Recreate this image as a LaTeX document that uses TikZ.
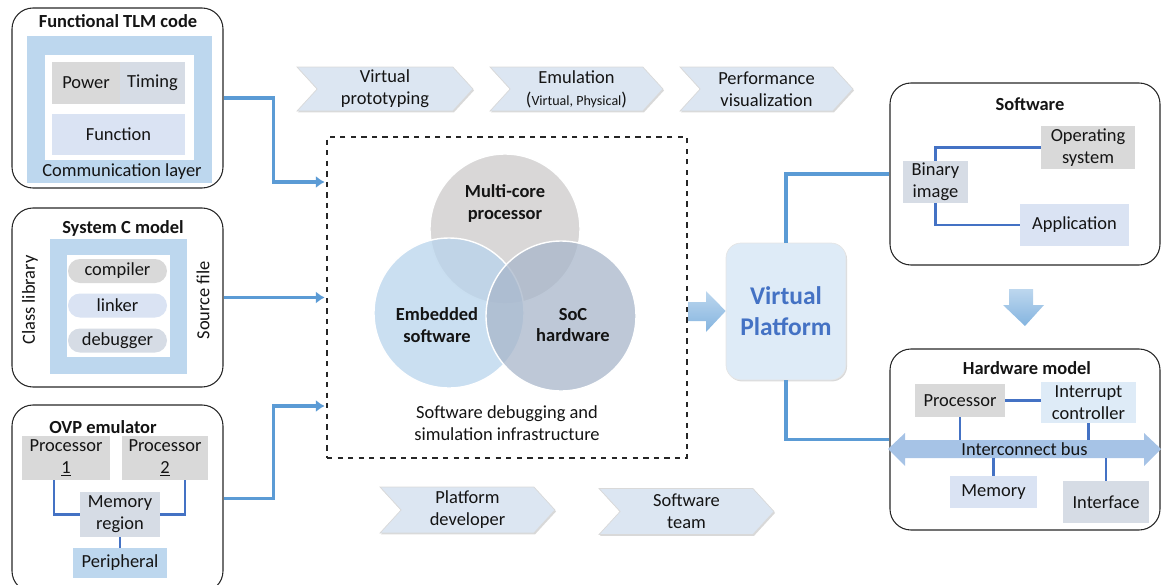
\documentclass[tikz,border=0pt]{standalone}
\usepackage{fontspec}
\setmainfont{Carlito}
\usetikzlibrary{shapes.symbols, shadows, calc, arrows.meta}
\definecolor{txtcol}{RGB}{20,20,20}
\definecolor{linkblue}{RGB}{91,155,213}
\definecolor{wireblue}{RGB}{68,114,196}
\definecolor{graybox}{RGB}{217,217,217}
\definecolor{bluegray}{RGB}{214,220,229}
\definecolor{paleblue}{RGB}{218,227,243}
\definecolor{lightblue}{RGB}{189,215,238}
\definecolor{iceblue}{RGB}{222,235,247}
\definecolor{chevcol}{RGB}{220,230,242}
\definecolor{busblue}{RGB}{166,195,230}
\definecolor{circgray}{RGB}{204,202,202}
\definecolor{circblue}{RGB}{184,212,236}
\definecolor{circslate}{RGB}{168,182,202}
\definecolor{vpblue}{RGB}{68,114,196}

\begin{document}
\begin{tikzpicture}[x=0.02cm, y=-0.02cm,
  every node/.style={font=\fontsize{10.5}{12.5}\selectfont, text=txtcol, align=center},
  sz/.style 2 args={minimum width=#1*0.02cm, minimum height=#2*0.02cm, inner sep=0pt},
  panel/.style={draw=black!85, line width=0.6pt, rounded corners=0.42cm},
  title/.style={font=\fontsize{10.5}{12.5}\selectfont\bfseries},
  pill/.style={sz={99}{24}, rounded corners=0.24cm},
  chev/.style={signal, signal from=west, signal to=east, signal pointer angle=95,
    fill=chevcol, draw=black!15, inner sep=0pt,
    drop shadow={opacity=0.3, shadow xshift=0.6pt, shadow yshift=-0.8pt}},
  link/.style={draw=linkblue, line width=2.2pt, -{Latex[length=5pt,width=7pt]}},
  trunk/.style={draw=linkblue, line width=2.2pt},
  wire/.style={draw=wireblue, line width=1.3pt},
  venn/.style={circle, sz={150}{150}, fill opacity=0.75, draw=white, line width=0.8pt},
  fatarrow/.style={top color=lightblue, bottom color=linkblue!75}]
\useasboundingbox (0,0) rectangle (1161,585);

% Functional TLM code
\node[panel, sz={211}{180}] (tlm) at (117.5,98) {};
\node[title] (tlmtitle) at (118,21) {Functional TLM code};
\node[fill=lightblue, sz={185}{147}] (comm) at (119.5,109.5) {};
\node[fill=white, sz={149}{105}] (commin) at (119.5,107.5) {};
\node[fill=graybox, sz={68}{42}] (power) at (86,83) {Power};
\node[fill=bluegray, sz={65}{42}] (timing) at (152.5,83) {Timing};
\node[fill=paleblue, sz={133}{41}] (func) at (118.5,134.5) {Function};
\node (commtxt) at (122,172) {Communication layer};

% System C model
\node[panel, sz={211}{179}] (sysc) at (117.5,297.5) {};
\node[title] (sysctitle) at (123,228) {System C model};
\node[fill=lightblue, sz={137}{135}] (libbox) at (118.5,306) {};
\node[fill=white, sz={103}{102}] (libin) at (118.5,306) {};
\node[pill, fill=graybox] (comp) at (117.5,271) {compiler};
\node[pill, fill=paleblue] (lnk) at (117.5,305.5) {linker};
\node[pill, fill=bluegray] (dbg) at (117.5,340.5) {debugger};
\node[rotate=90] (classlib) at (30,300) {Class library};
\node[rotate=90] (srcfile) at (203,300) {Source file};

% OVP emulator
\node[panel, sz={211}{187}] (ovp) at (117.5,498.5) {};
\node[title] (ovptitle) at (103,427) {OVP emulator};
\node[fill=graybox, sz={88}{44}] (p1) at (66,458) {Processor\\\underline{1}};
\node[fill=graybox, sz={86}{44}] (p2) at (165,458) {Processor\\\underline{2}};
\node[fill=bluegray, sz={80}{45}] (memreg) at (120,514.5) {Memory\\region};
\node[fill=lightblue, sz={94}{30}] (peri) at (120,563) {Peripheral};
\draw[wire] (54,0 |- p1.south) |- (memreg.west);
\draw[wire] (185,0 |- p2.south) |- (memreg.east);
\draw[wire] (memreg) -- (peri);

% Flow chevrons
\node[chev, sz={176}{44}] (proto) at (385,89) {Virtual\\prototyping};
\node[chev, sz={173}{44}] (emu) at (576.5,89) {Emulation\\({\fontsize{8}{10}\selectfont Virtual, Physical})};
\node[chev, sz={173}{44}] (perf) at (766.5,89) {Performance\\visualization};
\node[chev, sz={175}{46}] (pdev) at (467.5,510) {Platform\\developer};
\node[chev, sz={175}{46}] (swteam) at (686.5,511.5) {Software\\team};

% Infrastructure
\node[draw=black!85, dashed, line width=0.7pt, sz={360}{321}] (infra) at (507,297.5) {};
\node[venn, fill=circgray] (mcp) at (505,229) {};
\node[venn, fill=circblue] (emb) at (449,313) {};
\node[venn, fill=circslate] (soc) at (561,316) {};
\node[title] (mcptxt) at (505,203) {Multi-core\\processor};
\node[title] (embtxt) at (437,325) {Embedded\\software};
\node[title] (soctxt) at (573,325) {SoC\\hardware};
\node (infratxt) at (507,423) {Software debugging and\\simulation infrastructure};

\draw[link] (tlm.east) -- ++(50,0) |- ([xshift=-1pt]infra.west |- 0,182);
\draw[link] (sysc.east) -- ([xshift=-1pt]infra.west);
\draw[link] (ovp.east) -- ++(50,0) |- ([xshift=-1pt]infra.west |- 0,406);

% Virtual Platform
\node[sz={120}{137}, rounded corners=0.3cm, fill=iceblue, draw=black!10,
  drop shadow={opacity=0.3, shadow xshift=0.6pt, shadow yshift=-0.8pt},
  font=\fontsize{14.5}{17.5}\selectfont\bfseries, text=vpblue] (vp) at (786,311.5) {Virtual\\Platform};
\shade[fatarrow] (688,302) -- (706,302) -- (706,291) -- (vp.west |- 0,311)
  -- (706,332) -- (706,321) -- (688,321) -- cycle;

% Software
\node[panel, sz={270}{182}] (sw) at (1025,174) {};
\node[title] (swtitle) at (1030,104) {Software};
\node[fill=bluegray, sz={65}{42}] (bin) at (935.5,182) {Binary\\image};
\node[fill=graybox, sz={94}{43}] (os) at (1088,147.5) {Operating\\system};
\node[fill=paleblue, sz={109}{42}] (app) at (1074.5,225) {Application};
\draw[wire] (bin.north) |- (os.west);
\draw[wire] (bin.south) |- (app.west);

% Hardware model
\node[panel, sz={270}{181}] (hw) at (1025,439.5) {};
\node[title] (hwtitle) at (1027,368) {Hardware model};
\node[fill=graybox, sz={90}{33}] (cpu) at (960,400.5) {Processor};
\node[fill=iceblue, sz={95}{41}] (irq) at (1088.5,402.5) {Interrupt\\controller};
\fill[busblue] (888,449) -- (905,433) -- (905,440) -- (1144,440) -- (1144,433)
  -- (1161,449) -- (1144,466) -- (1144,458) -- (905,458) -- (905,466) -- cycle;
\node[sz={239}{18}] (bus) at (1024.5,449) {Interconnect bus};
\node[fill=paleblue, sz={87}{32}] (hwmem) at (993.5,492) {Memory};
\node[fill=bluegray, sz={86}{42}] (iface) at (1106,502) {Interface};
\draw[wire] (cpu.east) -- (irq.west |- cpu.east);
\draw[wire] (cpu.south) -- (cpu.south |- bus.north);
\draw[wire] (irq.south) -- (irq.south |- bus.north);
\draw[wire] (hwmem.north) -- (hwmem.north |- bus.south);
\draw[wire] (iface.north) -- (iface.north |- bus.south);

% Links to the platform
\draw[trunk] (vp.north) |- (sw.west);
\draw[trunk] (vp.south) |- (hw.west);
\shade[fatarrow] (1009,289) -- (1033,289) -- (1033,305) -- (1044,305)
  -- (sw.south |- 0,326) -- (1003,305) -- (1009,305) -- cycle;
\end{tikzpicture}
\end{document}
